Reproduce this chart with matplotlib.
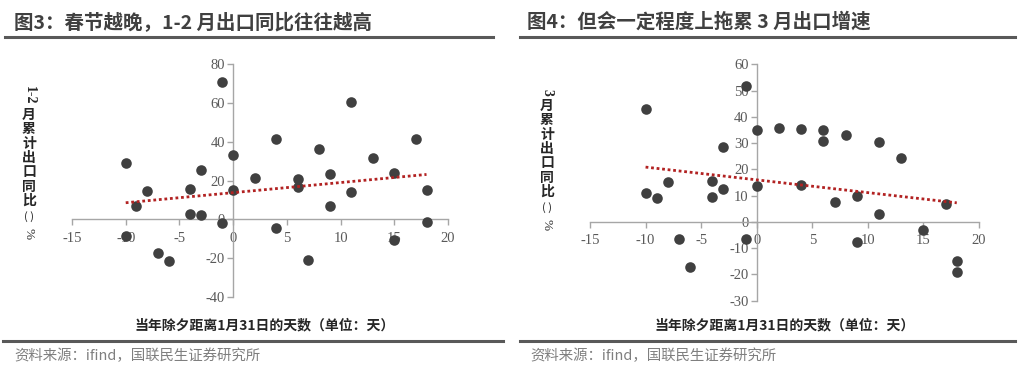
import numpy as np
import matplotlib.pyplot as plt
from matplotlib.lines import Line2D

plt.rcParams['font.family'] = ['Noto Sans CJK SC', 'DejaVu Sans']
plt.rcParams['axes.unicode_minus'] = False

W, H = 1024, 369

# 图3: 1-2月累计出口同比
days3 = [-10, -10, -9, -8, -7, -6, -4, -4, -3, -3, -1, -1, 0, 0, 2, 4, 4,
         6, 6, 7, 8, 9, 9, 11, 11, 13, 15, 15, 17, 18, 18]
yoy3 = [29, -8.5, 7, 14.5, -17.5, -21.3, 15.7, 2.6, 25.5, 2.1, 70.5, -1.7,
        32.9, 15.1, 21.3, 41.3, -4.6, 20.6, 16.9, -21.2, 36.3, 23.6, 7.1,
        60.4, 14.1, 31.5, 23.9, -10.5, 41.6, 15, -1.4]

# 图4: 3月累计出口同比
days4 = [-10, -10, -9, -8, -7, -6, -4, -4, -3, -3, -1, -1, 0, 0, 2, 4, 4,
         6, 6, 7, 8, 9, 9, 11, 11, 13, 15, 17, 18, 18]
yoy4 = [42.9, 10.9, 9.0, 15.0, -6.7, -17.0, 15.7, 9.6, 28.4, 12.4, 51.9, -6.7,
        34.8, 13.5, 35.9, 35.4, 14.1, 35.0, 30.7, 7.6, 32.9, 10.0, -7.6,
        30.5, 3.0, 24.5, -3.0, 7.0, -15.0, -19.2]

titles = ['图3：春节越晚，1-2 月出口同比往往越高', '图4：但会一定程度上拖累 3 月出口增速']
xlabel = '当年除夕距离1月31日的天数（单位：天）'
source = '资料来源：ifind，国联民生证券研究所'

DOT = '#404040'
AXC = '#A6A6A6'
TREND = '#B22222'
TXT = '#404040'

fig = plt.figure(figsize=(W / 100, H / 100), dpi=100)


def fx(px):
    return px / W


def fy(py):
    return 1 - py / H


def hline(x0, x1, y, lw=2.2, color='#595959'):
    fig.add_artist(Line2D([fx(x0), fx(x1)], [fy(y), fy(y)], transform=fig.transFigure,
                          color=color, lw=lw))


def panel(rect, xs, ys, ylim, yticks):
    ax = fig.add_axes(rect)
    ax.scatter(xs, ys, s=58, color=DOT, zorder=3, linewidths=0)
    k, b = np.polyfit(xs, ys, 1)
    tx = np.array([min(xs), max(xs)])
    ax.plot(tx, k * tx + b, ls=(0, (1, 1)), color=TREND, lw=2, zorder=4)
    ax.set_xlim(-15, 20)
    ax.set_ylim(*ylim)
    ax.set_xticks([-15, -10, -5, 0, 5, 10, 15, 20])
    ax.set_yticks(yticks)
    for s in ['top', 'right']:
        ax.spines[s].set_visible(False)
    ax.spines['left'].set_position(('data', 0))
    ax.spines['bottom'].set_position(('data', 0))
    for s in ['left', 'bottom']:
        ax.spines[s].set_color(AXC)
        ax.spines[s].set_linewidth(1)
    ax.tick_params(direction='out', length=4, color=AXC, width=1,
                   labelcolor='#595959', labelsize=10.5)
    ax.tick_params(axis='x', pad=5)
    ax.tick_params(axis='y', pad=2)
    for lab in ax.get_xticklabels() + ax.get_yticklabels():
        lab.set_family('Liberation Serif')
    ax.patch.set_alpha(0)
    return ax


ax1 = panel([fx(72), fy(297), fx(448) - fx(72), fy(64) - fy(297)],
            days3, yoy3, (-40, 80), [-40, -20, 0, 20, 40, 60, 80])
ax2 = panel([fx(590), fy(300.7), fx(979) - fx(590), fy(64.3) - fy(300.7)],
            days4, yoy4, (-30, 60), [-30, -20, -10, 0, 10, 20, 30, 40, 50, 60])

# titles and rules
fig.text(fx(14), fy(22), titles[0], fontsize=14, fontweight='bold', color=TXT, va='center')
fig.text(fx(527), fy(22), titles[1], fontsize=14, fontweight='bold', color=TXT, va='center')
hline(5, 493, 37)
hline(520, 1015, 37)
hline(3, 503, 341)
hline(520, 1015, 341)

# x labels
fig.text(fx(265), fy(325), xlabel, fontsize=10, fontweight='bold', color='#262626',
         ha='center', va='center')
fig.text(fx(785), fy(325), xlabel, fontsize=10, fontweight='bold', color='#262626',
         ha='center', va='center')

# sources
fig.text(fx(14), fy(356), source, fontsize=10.4, color='#7F7F7F', va='center')
fig.text(fx(530), fy(356), source, fontsize=10.4, color='#7F7F7F', va='center')


# stacked vertical y labels
def vlabel(x, y_first, head, step=14.3):
    fig.text(fx(x), fy(y_first - 10), head, rotation=-90, fontsize=10, fontweight='bold',
             color='#262626', ha='center', va='bottom', family='Liberation Serif')
    y = y_first
    for ch in '月累计出口同比':
        fig.text(fx(x), fy(y), ch, fontsize=10, fontweight='bold', color='#262626',
                 ha='center', va='center')
        y += step
    fig.text(fx(x), fy(y + 1), '( )', fontsize=8, color='#262626', ha='center', va='center')
    fig.text(fx(x), fy(y + 18), '%', rotation=-90, fontsize=9.5, color='#262626',
             ha='center', va='center', family='Liberation Serif')


vlabel(29, 115, '1-2')
vlabel(547, 106, '3')

fig.savefig('out.png', dpi=100)
